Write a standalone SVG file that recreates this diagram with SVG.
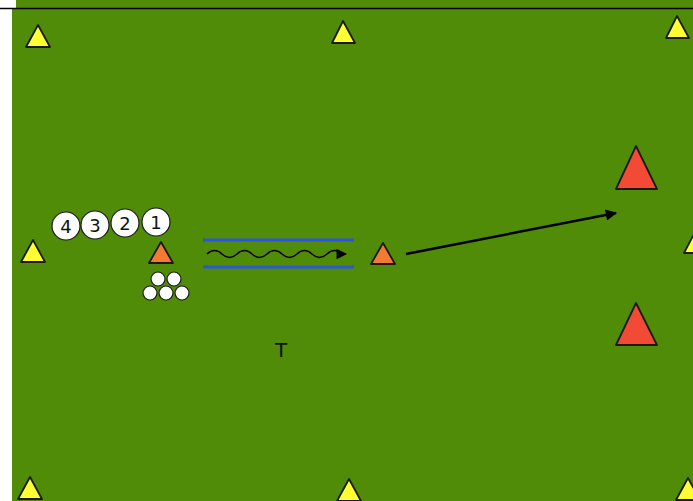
<svg xmlns="http://www.w3.org/2000/svg" width="693" height="501" viewBox="0 0 693 501">
<style>
.field{fill:#508c07}
.cy{fill:#ffff33;stroke:#1a1a1a;stroke-width:1.8;stroke-linejoin:round}
.cr{fill:#f24a35;stroke:#1a1a1a;stroke-width:1.8;stroke-linejoin:round}
.co{fill:#f27a35;stroke:#1a1a1a;stroke-width:1.8;stroke-linejoin:round}
.pl{fill:#ffffff;stroke:#1a1a1a;stroke-width:1.2}
.num{font-family:"DejaVu Sans",Verdana,sans-serif;font-size:18px;fill:#111;text-anchor:middle}
.ball{fill:#ffffff;stroke:#1a1a1a;stroke-width:1.2}
.blue{stroke:#2a55e0;stroke-width:3}
</style>
<defs>
<marker id="ah" viewBox="0 0 10 10" refX="9" refY="5" markerWidth="5.5" markerHeight="4.5" orient="auto" markerUnits="strokeWidth">
<path d="M0,0 L10,5 L0,10 z" fill="#000"/>
</marker>
<marker id="ah2" viewBox="0 0 10 10" refX="9" refY="5" markerWidth="8" markerHeight="7" orient="auto" markerUnits="strokeWidth">
<path d="M0,0 L10,5 L0,10 z" fill="#000"/>
</marker>
</defs>
<rect x="0" y="0" width="693" height="501" fill="#ffffff"/>
<rect class="field" x="16" y="0" width="677" height="9"/>
<rect class="field" x="12" y="9" width="681" height="492"/>
<line x1="0" y1="8.5" x2="693" y2="8.5" stroke="#000" stroke-width="1.5"/>
<g id="cones-yellow">
<polygon class="cy" points="38,25 26,47 50,47"/>
<polygon class="cy" points="343,21 332,43 355,43"/>
<polygon class="cy" points="677,16 666,38 689,38"/>
<polygon class="cy" points="33,240 21,262 45,262"/>
<polygon class="cy" points="695,232 684,253 706,253"/>
<polygon class="cy" points="30,477 18,499 42,499"/>
<polygon class="cy" points="349,479 337,501 361,501"/>
<polygon class="cy" points="688,478 676,500 700,500"/>
</g>
<g id="cones-red">
<polygon class="cr" points="636,146 616,189 657,189"/>
<polygon class="cr" points="636,303 616,345 657,345"/>
</g>
<g id="cone-orange-1"><polygon class="co" points="161,242 149,263 173,263"/></g>
<g id="cone-orange-2"><polygon class="co" points="383,243 371,264 395,264"/></g>
<g id="player-4"><circle class="pl" cx="66" cy="226" r="14"/><text class="num" x="66" y="232.5">4</text></g>
<g id="player-3"><circle class="pl" cx="95" cy="225" r="14"/><text class="num" x="95" y="231.5">3</text></g>
<g id="player-2"><circle class="pl" cx="125" cy="223" r="14"/><text class="num" x="125" y="229.5">2</text></g>
<g id="player-1"><circle class="pl" cx="156" cy="222" r="14"/><text class="num" x="156" y="228.5">1</text></g>
<g id="balls">
<circle class="ball" cx="158" cy="279" r="7"/>
<circle class="ball" cx="174" cy="279" r="7"/>
<circle class="ball" cx="150" cy="293" r="7"/>
<circle class="ball" cx="166" cy="293" r="7"/>
<circle class="ball" cx="182" cy="293" r="7"/>
</g>
<g id="channel">
<line class="blue" x1="203" y1="240" x2="354" y2="240"/>
<line class="blue" x1="203" y1="267" x2="354" y2="267"/>
</g>
<g id="connectors">
<path d="M207,254 q7.5,-7 15,0 t15,0 t15,0 t15,0 t15,0 t15,0 t15,0 t15,0 t15,0 L346,254" fill="none" stroke="#000" stroke-width="1.5" marker-end="url(#ah2)"/>
<line x1="406" y1="254" x2="616" y2="213" stroke="#000" stroke-width="2.5" marker-end="url(#ah)"/>
</g>
<text x="281" y="357" font-family="DejaVu Sans,Verdana,sans-serif" font-size="20" fill="#111" text-anchor="middle">T</text>
</svg>
